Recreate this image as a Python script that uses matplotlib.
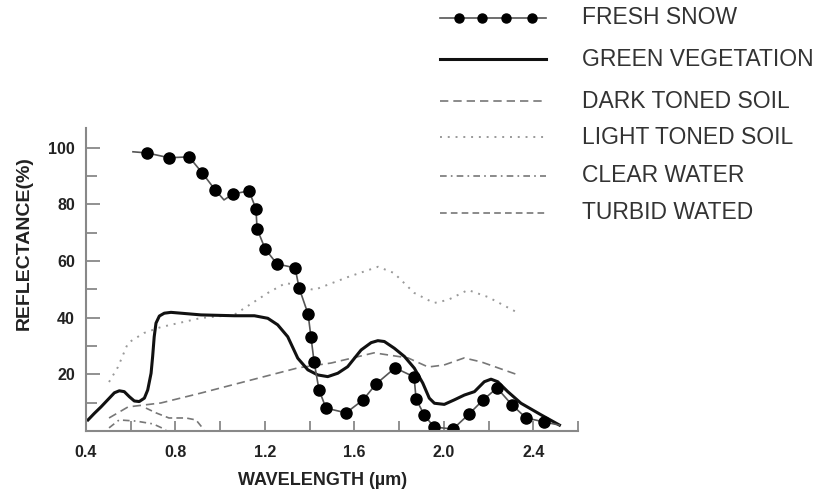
import numpy as np
import matplotlib
matplotlib.use("Agg")
import matplotlib.pyplot as plt
from matplotlib.lines import Line2D
from matplotlib.ticker import MultipleLocator

plt.rcParams['font.family'] = ['Liberation Sans', 'DejaVu Sans']

# ---- data (wavelength in um, reflectance in %) ----
snow_x = [0.610, 0.673, 0.771, 0.861, 0.919, 0.977, 1.017, 1.057, 1.129, 1.160,
          1.165, 1.201, 1.254, 1.335, 1.353, 1.393, 1.406, 1.420, 1.442, 1.473,
          1.563, 1.639, 1.697, 1.782, 1.867, 1.876, 1.912, 1.956, 2.041, 2.113,
          2.176, 2.238, 2.305, 2.368, 2.449, 2.516]
snow_y = [98.6, 98.2, 96.5, 96.8, 91.2, 85.2, 81.6, 83.7, 84.8, 78.4,
          71.4, 64.3, 59.0, 57.6, 50.5, 41.3, 33.2, 24.4, 14.5, 8.1,
          6.4, 11.0, 16.6, 22.3, 19.1, 11.3, 5.7, 1.4, 0.7, 6.0,
          11.0, 15.2, 9.2, 4.6, 3.2, 2.1]
snow_marked = [1, 2, 3, 4, 5, 7, 8, 9, 10, 11, 12, 13, 14, 15, 16, 17, 18, 19,
               20, 21, 22, 23, 24, 25, 26, 27, 28, 29, 30, 31, 32, 33, 34]

veg_x = [0.409, 0.437, 0.467, 0.497, 0.527, 0.549, 0.571, 0.594, 0.616, 0.638,
         0.661, 0.676, 0.691, 0.698, 0.705, 0.713, 0.728, 0.750, 0.780, 0.825,
         0.914, 1.063, 1.153, 1.213, 1.257, 1.302, 1.347, 1.392, 1.436, 1.481,
         1.526, 1.570, 1.630, 1.675, 1.705, 1.734, 1.779, 1.824, 1.868, 1.906,
         1.935, 1.958, 2.002, 2.047, 2.092, 2.137, 2.181, 2.211, 2.241, 2.286,
         2.345, 2.435, 2.517]
veg_y = [3.9, 6.2, 8.5, 11.0, 13.5, 14.2, 13.9, 12.1, 10.6, 10.4,
         11.6, 14.5, 20.4, 26.3, 33.3, 38.1, 40.6, 41.6, 41.9, 41.6,
         41.0, 40.7, 40.7, 39.8, 37.5, 33.3, 25.7, 21.6, 19.8, 19.2,
         20.4, 22.7, 28.6, 31.2, 31.9, 31.6, 29.2, 26.3, 22.2, 16.9,
         11.6, 9.8, 9.4, 11.0, 12.7, 13.9, 17.4, 18.3, 17.4, 13.9,
         9.8, 5.7, 2.1]

dark_x = [0.503, 0.588, 0.735, 0.914, 1.138, 1.348, 1.496, 1.688, 1.840, 1.930,
          2.001, 2.091, 2.167, 2.332]
dark_y = [4.6, 8.5, 9.9, 13.4, 18.0, 22.3, 24.0, 27.6, 25.8, 22.6,
          23.3, 25.8, 24.4, 19.8]

light_x = [0.503, 0.543, 0.588, 0.659, 0.735, 0.914, 1.062, 1.214, 1.294, 1.420,
           1.572, 1.706, 1.777, 1.867, 1.956, 2.019, 2.108, 2.198, 2.332]
light_y = [17.3, 22.6, 31.1, 34.6, 36.7, 39.9, 41.0, 48.8, 52.3, 49.8,
           54.4, 58.0, 55.8, 48.8, 45.2, 46.3, 49.8, 47.3, 41.7]

clear_x = [0.503, 0.548, 0.624, 0.700, 0.758]
clear_y = [1.1, 3.9, 3.5, 2.5, 0.4]

turbid_x = [0.668, 0.713, 0.771, 0.847, 0.892, 0.928]
turbid_y = [8.1, 6.4, 4.6, 4.6, 3.9, 0.4]

legend_names = ["FRESH SNOW", "GREEN VEGETATION", "DARK TONED SOIL",
                "LIGHT TONED SOIL", "CLEAR WATER", "TURBID WATED"]

# ---- styles ----
st_snow = dict(color="#555555", lw=1.2)
st_veg = dict(color="#111111", lw=2.2, solid_joinstyle="round")
st_dark = dict(color="#777777", lw=1.2, linestyle=(0, (5, 3)))
st_light = dict(color="#999999", lw=1.4, linestyle=(0, (1, 3)))
st_clear = dict(color="#777777", lw=1.2, linestyle=(0, (4, 2.5, 1, 2.5)))
st_turbid = dict(color="#777777", lw=1.2, linestyle=(0, (4, 2.5)))

W, H = 819, 492
fig = plt.figure(figsize=(W / 100, H / 100), dpi=100)
ax = fig.add_axes([86 / W, 1 - 431 / H, (578 - 86) / W, (431 - 128) / H])

ax.plot(light_x, light_y, **st_light)
ax.plot(dark_x, dark_y, **st_dark)
ax.plot(clear_x, clear_y, **st_clear)
ax.plot(turbid_x, turbid_y, **st_turbid)
ax.plot(veg_x, veg_y, **st_veg)
ax.plot(snow_x, snow_y, marker="o", ms=8, mfc="black", mec="black",
        markevery=snow_marked, **st_snow)

ax.set_xlim(0.4, 2.6)
ax.set_ylim(0, 107)
for s in ["top", "right"]:
    ax.spines[s].set_visible(False)
for s in ["left", "bottom"]:
    ax.spines[s].set_color("#888888")
    ax.spines[s].set_linewidth(1.5)

ax.xaxis.set_minor_locator(MultipleLocator(0.2))
ax.yaxis.set_minor_locator(MultipleLocator(10))
ax.set_xticks([0.4, 0.8, 1.2, 1.6, 2.0, 2.4])
ax.set_xticklabels(["0.4", "0.8", "1.2", "1.6", "2.0", "2.4"])
ax.set_yticks([20, 40, 60, 80, 100])
ax.tick_params(axis="both", which="both", direction="in", color="#888888",
               width=1.3, labelsize=11.5, labelcolor="#222222")
ax.tick_params(axis="x", which="both", length=7, pad=10)
ax.tick_params(axis="y", which="major", length=10, pad=8)
ax.tick_params(axis="y", which="minor", length=8)
for lab in ax.get_xticklabels() + ax.get_yticklabels():
    lab.set_fontweight("bold")

ax.set_xlabel("WAVELENGTH (\u00b5m)", fontsize=13, fontweight="bold",
              color="#222222", labelpad=11)
ax.xaxis.set_label_coords(0.48, -0.135)
ax.set_ylabel("REFLECTANCE(%)", fontsize=14, fontweight="bold",
              color="#222222", labelpad=13)
ax.yaxis.set_label_coords(-0.108, 0.62)

# ---- legend drawn at the top right ----
def px(x, y):
    return x / W, 1 - y / H

rows = [18, 59, 101, 137, 176, 213]
styles = [st_snow, st_veg, st_dark, st_light, st_clear, st_turbid]
for i, (name, st) in enumerate(zip(legend_names, styles)):
    yy = rows[i]
    x0, y0 = px(440, yy)
    x1, _ = px(546, yy)
    fig.add_artist(Line2D([x0, x1], [y0, y0], transform=fig.transFigure, **st))
    if i == 0:
        mx = [px(v, yy)[0] for v in (459, 482, 506, 532)]
        fig.add_artist(Line2D(mx, [y0] * 4, transform=fig.transFigure,
                              linestyle="none", marker="o", ms=6.5,
                              mfc="black", mec="black"))
    tx, ty = px(582, yy)
    fig.text(tx, ty, name, fontsize=16.5, color="#333333", va="center", ha="left")

fig.savefig("out.png", dpi=100)
